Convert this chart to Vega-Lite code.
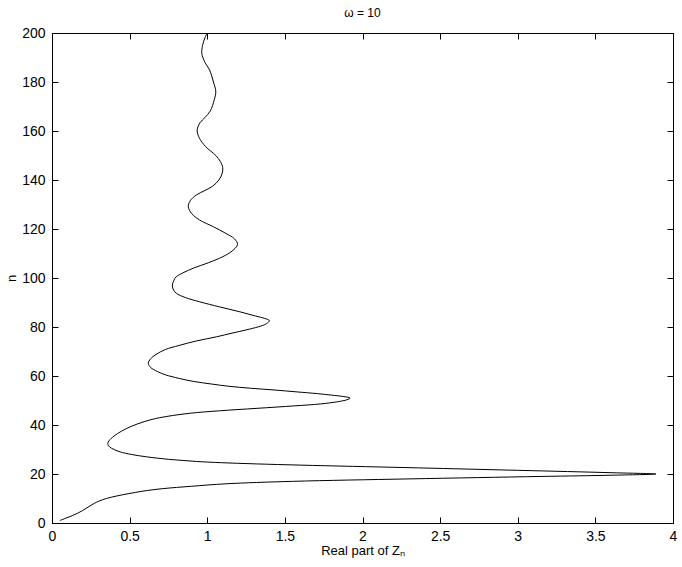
{
  "$schema": "https://vega.github.io/schema/vega-lite/v6.json",
  "width": 621,
  "height": 490,
  "autosize": {"type": "none"},
  "padding": {"left": 52, "top": 33, "right": 9, "bottom": 44},
  "background": "white",
  "config": {
    "view": {"stroke": "black", "strokeWidth": 1},
    "font": "Liberation Sans",
    "axis": {
      "domainColor": "black",
      "tickColor": "black",
      "labelColor": "black",
      "titleColor": "black",
      "labelFont": "Liberation Sans",
      "titleFont": "Liberation Sans",
      "labelFontSize": 14,
      "titleFontSize": 13,
      "titleFontWeight": "normal",
      "grid": false,
      "tickSize": -6,
      "domainWidth": 1,
      "tickWidth": 1
    }
  },
  "title": {
    "text": "ω = 10",
    "fontSize": 12,
    "fontWeight": "normal",
    "font": "Liberation Sans",
    "color": "black",
    "offset": 6
  },
  "data": {
    "values": [
      {"n": 1, "re": 0.05},
      {"n": 2, "re": 0.09},
      {"n": 3, "re": 0.13},
      {"n": 4, "re": 0.165},
      {"n": 5, "re": 0.195},
      {"n": 6, "re": 0.22},
      {"n": 7, "re": 0.245},
      {"n": 8, "re": 0.272},
      {"n": 9, "re": 0.305},
      {"n": 10, "re": 0.35},
      {"n": 11, "re": 0.415},
      {"n": 12, "re": 0.495},
      {"n": 13, "re": 0.585},
      {"n": 14, "re": 0.71},
      {"n": 15, "re": 0.9},
      {"n": 16, "re": 1.12},
      {"n": 17, "re": 1.55},
      {"n": 18, "re": 2.3},
      {"n": 19, "re": 3.15},
      {"n": 19.5, "re": 3.6},
      {"n": 20, "re": 3.89},
      {"n": 20.5, "re": 3.62},
      {"n": 21, "re": 3.32},
      {"n": 21.5, "re": 3.0},
      {"n": 22, "re": 2.68},
      {"n": 22.5, "re": 2.36},
      {"n": 23, "re": 2.02},
      {"n": 23.5, "re": 1.68},
      {"n": 24, "re": 1.38},
      {"n": 24.5, "re": 1.14},
      {"n": 25, "re": 0.96},
      {"n": 25.5, "re": 0.85},
      {"n": 26, "re": 0.75},
      {"n": 27, "re": 0.61},
      {"n": 28, "re": 0.51},
      {"n": 29, "re": 0.44},
      {"n": 30, "re": 0.4},
      {"n": 31, "re": 0.372},
      {"n": 32, "re": 0.36},
      {"n": 33, "re": 0.362},
      {"n": 34, "re": 0.373},
      {"n": 35, "re": 0.39},
      {"n": 36.5, "re": 0.422},
      {"n": 38.5, "re": 0.478},
      {"n": 40.5, "re": 0.553},
      {"n": 42.3, "re": 0.645},
      {"n": 43.5, "re": 0.74},
      {"n": 44.8, "re": 0.89},
      {"n": 45.8, "re": 1.08},
      {"n": 46.8, "re": 1.32},
      {"n": 47.8, "re": 1.56},
      {"n": 48.6, "re": 1.73},
      {"n": 49.5, "re": 1.84},
      {"n": 50.3, "re": 1.9},
      {"n": 51, "re": 1.92},
      {"n": 51.6, "re": 1.88},
      {"n": 52.2, "re": 1.8},
      {"n": 52.8, "re": 1.71},
      {"n": 53.5, "re": 1.58},
      {"n": 54.3, "re": 1.43},
      {"n": 55, "re": 1.28},
      {"n": 55.8, "re": 1.14},
      {"n": 56.7, "re": 1.03},
      {"n": 57.8, "re": 0.91},
      {"n": 59, "re": 0.82},
      {"n": 60.5, "re": 0.73},
      {"n": 61.8, "re": 0.68},
      {"n": 63.5, "re": 0.635},
      {"n": 65.2, "re": 0.62},
      {"n": 67, "re": 0.635},
      {"n": 68.8, "re": 0.67},
      {"n": 70.8, "re": 0.73},
      {"n": 72.5, "re": 0.82},
      {"n": 74.3, "re": 0.93},
      {"n": 76, "re": 1.06},
      {"n": 77.5, "re": 1.16},
      {"n": 78.8, "re": 1.25},
      {"n": 80.1, "re": 1.33},
      {"n": 81.3, "re": 1.38},
      {"n": 82.6, "re": 1.4},
      {"n": 83.5, "re": 1.37},
      {"n": 84.5, "re": 1.31},
      {"n": 86.2, "re": 1.21},
      {"n": 88.2, "re": 1.08},
      {"n": 90.3, "re": 0.95},
      {"n": 92, "re": 0.86},
      {"n": 93.8, "re": 0.8},
      {"n": 95.5, "re": 0.78},
      {"n": 97.1, "re": 0.775},
      {"n": 99, "re": 0.785},
      {"n": 100.5, "re": 0.8},
      {"n": 102.3, "re": 0.85},
      {"n": 104, "re": 0.91},
      {"n": 106.3, "re": 1.01},
      {"n": 108.7, "re": 1.1},
      {"n": 111, "re": 1.16},
      {"n": 113.7, "re": 1.195},
      {"n": 116, "re": 1.175},
      {"n": 118.2, "re": 1.12},
      {"n": 120.9, "re": 1.04},
      {"n": 123.7, "re": 0.95},
      {"n": 126.3, "re": 0.9},
      {"n": 129, "re": 0.878},
      {"n": 131.5, "re": 0.89},
      {"n": 133.9, "re": 0.93},
      {"n": 135.7, "re": 0.985},
      {"n": 137.5, "re": 1.035},
      {"n": 140, "re": 1.075},
      {"n": 142.5, "re": 1.095},
      {"n": 145, "re": 1.1},
      {"n": 147.5, "re": 1.085},
      {"n": 150, "re": 1.055},
      {"n": 153.6, "re": 0.99},
      {"n": 157, "re": 0.95},
      {"n": 160.4, "re": 0.935},
      {"n": 163.5, "re": 0.955},
      {"n": 165.5, "re": 0.985},
      {"n": 168.2, "re": 1.02},
      {"n": 172.7, "re": 1.045},
      {"n": 176, "re": 1.055},
      {"n": 180, "re": 1.04},
      {"n": 184.9, "re": 1.015},
      {"n": 188, "re": 0.985},
      {"n": 191.7, "re": 0.965},
      {"n": 195, "re": 0.97},
      {"n": 198, "re": 0.985},
      {"n": 200, "re": 1.0}
    ]
  },
  "layer": [
    {
      "mark": {"type": "line", "color": "black", "strokeWidth": 1, "interpolate": "catmull-rom"},
      "encoding": {
        "x": {
          "field": "re", "type": "quantitative",
          "scale": {"domain": [0, 4], "nice": false, "zero": false},
          "axis": {"orient": "bottom", "values": [0, 0.5, 1, 1.5, 2, 2.5, 3, 3.5, 4], "format": "~g", "labelPadding": 12, "title": "Real part of Zₙ", "titlePadding": 1, "labelFlush": false}
        },
        "y": {
          "field": "n", "type": "quantitative",
          "scale": {"domain": [0, 200], "nice": false, "zero": false},
          "axis": {"orient": "left", "values": [0, 20, 40, 60, 80, 100, 120, 140, 160, 180, 200], "labelPadding": 13, "title": "n", "titlePadding": 3, "labelFlush": false}
        },
        "order": {"field": "n", "type": "quantitative"}
      }
    },
    {
      "mark": {"type": "line", "strokeOpacity": 0},
      "encoding": {
        "x": {
          "field": "re", "type": "quantitative",
          "axis": {"orient": "top", "values": [0, 0.5, 1, 1.5, 2, 2.5, 3, 3.5, 4], "labels": false, "title": null}
        },
        "y": {
          "field": "n", "type": "quantitative",
          "axis": {"orient": "right", "values": [0, 20, 40, 60, 80, 100, 120, 140, 160, 180, 200], "labels": false, "title": null}
        },
        "order": {"field": "n", "type": "quantitative"}
      }
    }
  ],
  "resolve": {"axis": {"x": "independent", "y": "independent"}}
}
